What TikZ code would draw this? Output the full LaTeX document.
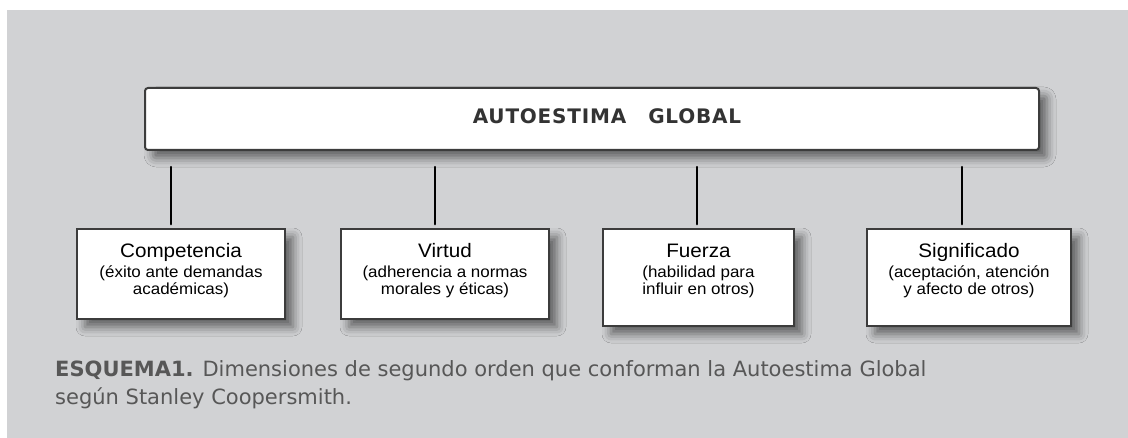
\documentclass[tikz,border=0pt]{standalone}
\usepackage{fontspec}
\setmainfont{Liberation Sans}
\newfontfamily\boxfont[FakeStretch=1.06]{Liberation Sans}
\newfontfamily\capfont{DejaVu Sans}
\newfontfamily\titlefont[LetterSpace=4]{DejaVu Sans}
\usetikzlibrary{shadows.blur}
\definecolor{bg}{HTML}{D1D2D4}
\definecolor{frame}{HTML}{3C3C3C}
\definecolor{captxt}{HTML}{575757}
\definecolor{titletxt}{HTML}{333333}
\tikzset{
  shadowed/.style={blur shadow={shadow xshift=8pt, shadow yshift=-8pt, shadow blur radius=9pt, shadow opacity=55}},
  mainbox/.style={draw=frame, line width=2pt, fill=white, rounded corners=3pt, shadowed},
  dimbox/.style={draw=frame, line width=1.6pt, fill=white, shadowed},
  dimname/.style={anchor=base, inner sep=0pt, text=black, font=\boxfont\fontsize{19.5}{22}\selectfont},
  dimsub/.style={anchor=base, align=center, inner sep=0pt, text=black, font=\boxfont\fontsize{16}{17}\selectfont},
  conn/.style={draw=black, line width=2.4pt, line cap=round, shorten <=16pt, shorten >=4pt},
}
\begin{document}
\begin{tikzpicture}[x=1pt,y=-1pt]
\useasboundingbox (0,0) rectangle (1128,438);
\fill[white] (0,0) rectangle (1128,438);
\fill[bg] (7,10) rectangle (1128,438);
% main box
\node[mainbox, minimum width=894pt, minimum height=62pt] (main) at (592,119) {};
\node[anchor=center, inner sep=0pt, text=titletxt, font=\titlefont\bfseries\fontsize{20}{22}\selectfont] (title) at (607,116) {AUTOESTIMA\hspace{22pt}GLOBAL};
% dimension boxes
\node[dimbox, minimum width=208pt, minimum height=90pt] (c1) at (181,274) {};
\node[dimbox, minimum width=208pt, minimum height=90pt] (c2) at (445,274) {};
\node[dimbox, minimum width=191pt, minimum height=97pt] (c3) at (698.5,277.5) {};
\node[dimbox, minimum width=204pt, minimum height=97pt] (c4) at (969,277.5) {};
\node[dimname] (c1n) at ([yshift=-29pt]c1.north) {Competencia};
\node[dimsub]  (c1s) at ([yshift=-66pt]c1.north) {(éxito ante demandas\\académicas)};
\node[dimname] (c2n) at ([yshift=-29pt]c2.north) {Virtud};
\node[dimsub]  (c2s) at ([yshift=-66pt]c2.north) {(adherencia a normas\\morales y éticas)};
\node[dimname] (c3n) at ([yshift=-29pt]c3.north) {Fuerza};
\node[dimsub]  (c3s) at ([yshift=-66pt]c3.north) {(habilidad para\\influir en otros)};
\node[dimname] (c4n) at ([yshift=-29pt]c4.north) {Significado};
\node[dimsub]  (c4s) at ([yshift=-66pt]c4.north) {(aceptación, atención\\y afecto de otros)};
% connectors
\coordinate (x1) at (171,0);
\coordinate (x2) at (435,0);
\coordinate (x3) at (697,0);
\coordinate (x4) at (962,0);
\draw[conn] (main.south -| x1) -- (c1.north -| x1);
\draw[conn] (main.south -| x2) -- (c2.north -| x2);
\draw[conn] (main.south -| x3) -- (c3.north -| x3);
\draw[conn] (main.south -| x4) -- (c4.north -| x4);
% caption
\node[anchor=north west, align=left, inner sep=0pt, text=captxt, font=\capfont\fontsize{21}{28}\selectfont] (cap) at (55,360)
  {\textbf{ESQUEMA1.} Dimensiones de segundo orden que conforman la Autoestima Global\\según Stanley Coopersmith.};
\end{tikzpicture}
\end{document}
